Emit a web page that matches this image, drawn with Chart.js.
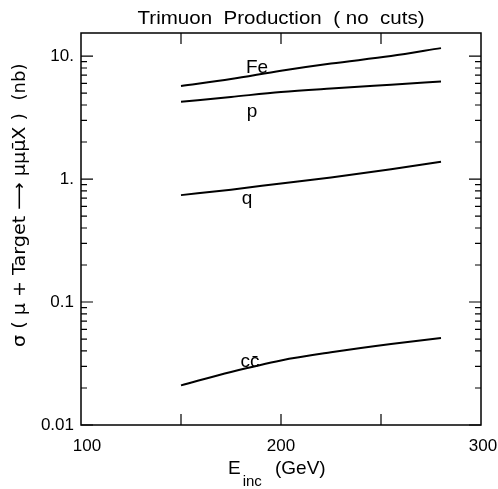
<!DOCTYPE html>
<html>
<head>
<meta charset="utf-8">
<script src="https://cdn.jsdelivr.net/npm/chart.js@4/dist/chart.umd.min.js"></script>
<style>
  body { margin: 0; background: #fff; }
  #wrap { width: 498px; height: 489px; }
</style>
</head>
<body>
<div id="wrap"><canvas id="myChart" width="498" height="489"></canvas></div>
<script>
// incident energy (GeV) and cross sections (nb)
const energy = [150, 175, 200, 225, 255, 280];
const feValues = [5.7, 6.5, 7.6, 8.7, 10.0, 11.6];
const pValues = [4.25, 4.65, 5.1, 5.45, 5.85, 6.2];
const qValues = [0.74, 0.82, 0.92, 1.03, 1.2, 1.38];
const ccValues = [0.021, 0.027, 0.0335, 0.039, 0.0455, 0.051];

const yTickValues = [0.01, 0.02, 0.03, 0.04, 0.05, 0.06, 0.07, 0.08, 0.09,
  0.1, 0.2, 0.3, 0.4, 0.5, 0.6, 0.7, 0.8, 0.9,
  1, 2, 3, 4, 5, 6, 7, 8, 9, 10];
const yMajor = { 0.01: '0.01', 0.1: '0.1', 1: '1.', 10: '10.' };
const xTickValues = [100, 150, 200, 250, 300];
const xLabels = { 100: '100', 200: '200', 300: '300' };

// curve names, placed at (energy, value)
const curveNames = ['Fe', 'p', 'q', 'cc̄'];
const nameAt = [[188, 8.0], [185.5, 3.55], [183, 0.69], [184.5, 0.0325]];

const FONT = '"Liberation Sans", "DejaVu Sans", sans-serif';

function series(ys) {
  return energy.map((e, i) => ({ x: e, y: ys[i] }));
}

// draw text squeezed/stretched to a given width
function fitText(ctx, text, x, y, width) {
  const w = ctx.measureText(text).width;
  ctx.save();
  ctx.translate(x, y);
  ctx.scale(width / w, 1);
  ctx.fillText(text, 0, 0);
  ctx.restore();
}

// frame, inward ticks and text drawn on top of the chart area
const decorations = {
  id: 'decorations',
  afterDraw(chart) {
    const ctx = chart.ctx;
    const a = chart.chartArea;
    const xs = chart.scales.x, ys = chart.scales.y;
    ctx.save();
    ctx.strokeStyle = '#000';
    ctx.lineWidth = 1.5;
    ctx.strokeRect(a.left, a.top, a.right - a.left, a.bottom - a.top);

    ctx.lineWidth = 1.2;
    ctx.beginPath();
    yTickValues.forEach(v => {
      const py = ys.getPixelForValue(v);
      const len = yMajor[v] ? 12 : 6;
      ctx.moveTo(a.left, py); ctx.lineTo(a.left + len, py);
      ctx.moveTo(a.right, py); ctx.lineTo(a.right - len, py);
    });
    [150, 200, 250].forEach(v => {
      const px = xs.getPixelForValue(v);
      ctx.moveTo(px, a.bottom); ctx.lineTo(px, a.bottom - 11);
      ctx.moveTo(px, a.top); ctx.lineTo(px, a.top + 11);
    });
    ctx.stroke();

    ctx.fillStyle = '#000';
    // x tick labels
    ctx.font = '17px ' + FONT;
    ctx.textAlign = 'center';
    ctx.textBaseline = 'middle';
    xTickValues.forEach(v => {
      if (!xLabels[v]) return;
      let px = xs.getPixelForValue(v);
      if (v === 100) px += 6;
      if (v === 300) px += 2;
      ctx.fillText(xLabels[v], px, a.bottom + 21);
    });

    // title
    ctx.font = '19px ' + FONT;
    fitText(ctx, 'Trimuon  Production  ( no  cuts)', (a.left + a.right) / 2, 19, 287);

    // x axis title
    ctx.font = '19px ' + FONT;
    ctx.textAlign = 'left';
    const cx = 228;
    ctx.fillText('E', cx, 469);
    const wE = ctx.measureText('E').width;
    ctx.font = '15px ' + FONT;
    ctx.fillText('inc', cx + wE + 2, 482);
    ctx.font = '19px ' + FONT;
    ctx.fillText('(GeV)', 275, 469);

    // y axis title
    ctx.save();
    ctx.translate(20, 0);
    ctx.rotate(-Math.PI / 2);
    ctx.font = '18px "DejaVu Sans", sans-serif';
    ctx.textAlign = 'center';
    fitText(ctx, 'σ ( μ + Target ⟶ μμμ̄X )', -230, 0, 234);
    ctx.fillText('(nb)', -82, 0);
    ctx.restore();

    // curve names
    ctx.font = '19px ' + FONT;
    ctx.textAlign = 'center';
    curveNames.forEach((n, i) => {
      ctx.fillText(n, xs.getPixelForValue(nameAt[i][0]), ys.getPixelForValue(nameAt[i][1]));
    });
    ctx.restore();
  }
};

const lineStyle = {
  borderColor: '#000',
  borderWidth: 2,
  pointRadius: 0,
  fill: false,
  cubicInterpolationMode: 'monotone'
};

const ctx = document.getElementById('myChart');
const chart = new Chart(ctx, {
  type: 'line',
  data: {
    datasets: [
      Object.assign({ label: 'Fe', data: series(feValues) }, lineStyle),
      Object.assign({ label: 'p', data: series(pValues) }, lineStyle),
      Object.assign({ label: 'q', data: series(qValues) }, lineStyle),
      Object.assign({ label: 'cc̄', data: series(ccValues) }, lineStyle)
    ]
  },
  options: {
    responsive: false,
    animation: false,
    layout: { padding: { left: 0, top: 33, right: 17, bottom: 0 } },
    plugins: { legend: { display: false }, title: { display: false }, tooltip: { enabled: false } },
    scales: {
      x: {
        type: 'linear',
        min: 100,
        max: 300,
        grid: { display: false },
        border: { display: false },
        ticks: { display: false },
        afterFit(scale) { scale.height = 64; }
      },
      y: {
        type: 'logarithmic',
        min: 0.01,
        max: 15.4,
        grid: { display: false, drawTicks: false },
        border: { display: false },
        afterBuildTicks(scale) {
          scale.ticks = yTickValues.map(v => ({ value: v, major: !!yMajor[v] }));
        },
        ticks: {
          autoSkip: false,
          padding: 7,
          color: '#000',
          font: { family: FONT, size: 17 },
          callback: v => yMajor[v] || ''
        },
        afterFit(scale) { scale.width = 81; }
      }
    }
  },
  plugins: [decorations]
});
</script>
</body>
</html>
